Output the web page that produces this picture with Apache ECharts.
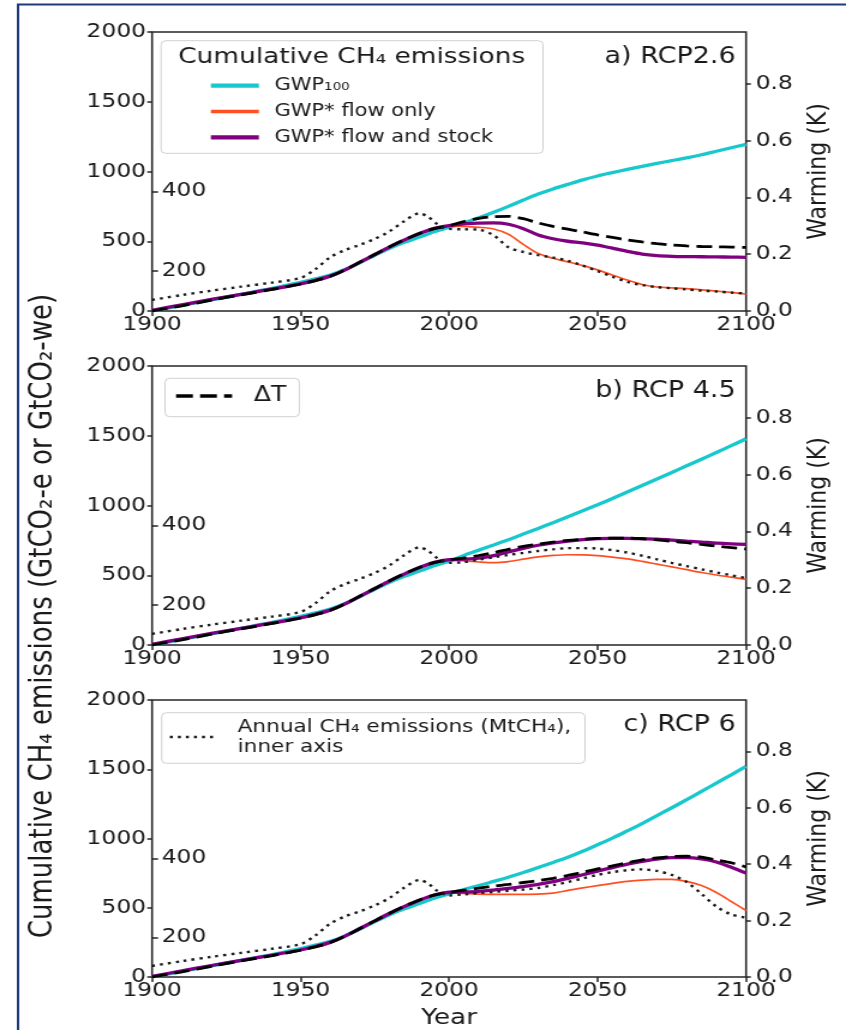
<!DOCTYPE html>
<html><head><meta charset="utf-8">
<script src="https://cdn.jsdelivr.net/npm/echarts@6/dist/echarts.min.js"></script>
<style>
html,body{margin:0;padding:0;background:#fff;overflow:hidden;width:846px;height:1030px}
#chart{width:705px;height:1030px;transform:scaleX(1.2);transform-origin:0 0;}
</style>
</head><body><div id="chart"></div>
<script>
// ---------- DATA ----------
const panelTitles = ['a) RCP2.6', 'b) RCP 4.5', 'c) RCP 6'];
const xTicks = [1900, 1950, 2000, 2050, 2100];
const warmTicks = [0, 0.2, 0.4, 0.6, 0.8];
const innerTicks = [200, 400];

const histYears = [1900,1910,1920,1930,1940,1950,1955,1960,1965,1970,1975,1980,1985,1990,1995,2000];
const histGwp100 = [0,40,80,120,160,205,230,257,297,347,400,450,492,530,568,600];
const histFlow   = [3,43,83,120,156,195,220,250,294,348,404,458,508,552,588,608];
const histStock  = [5,44,83,120,156,195,220,250,295,350,405,460,510,555,592,612];
const histDT     = [0,0.018,0.038,0.057,0.075,0.095,0.107,0.122,0.145,0.172,0.199,0.226,0.251,0.273,0.29,0.30];
const annualHistYears = [1900,1910,1920,1930,1940,1950,1955,1960,1965,1970,1975,1980,1985,1990,1993,1996,2000];
const annualHist = [128,140,151,161,171,183,205,235,253,266,281,300,326,345,336,318,306];

const futYears = [2005,2010,2015,2020,2025,2030,2035,2040,2045,2050,2055,2060,2065,2070,2075,2080,2085,2090,2095,2100];

const a_gwp100 = [632,668,708,750,795,838,875,908,940,968,992,1015,1037,1058,1078,1098,1120,1145,1170,1195];
const a_flow   = [606,600,588,550,478,412,378,352,325,295,258,222,190,172,166,160,152,143,133,122];
const a_stock  = [625,630,632,622,590,545,518,500,488,472,450,428,408,397,392,390,389,388,386,385];
const a_dT     = [0.315,0.326,0.332,0.333,0.325,0.31,0.298,0.288,0.278,0.268,0.259,0.25,0.243,0.237,0.232,0.229,0.227,0.226,0.225,0.224];
const a_annual = [305,304,290,260,248,240,234,226,214,200,186,173,165,160,157,154,151,149,146,144];

const b_gwp100 = [642,680,717,755,795,835,877,920,962,1005,1050,1097,1143,1190,1237,1285,1332,1380,1429,1478];
const b_flow   = [603,595,590,598,615,632,642,647,646,640,630,618,600,580,560,540,520,502,486,470];
const b_stock  = [615,622,640,668,693,715,732,745,755,762,765,765,762,758,752,745,738,730,725,722];
const b_dT     = [0.306,0.315,0.325,0.337,0.347,0.355,0.362,0.368,0.372,0.375,0.376,0.376,0.374,0.37,0.365,0.36,0.354,0.348,0.343,0.338];
const b_annual = [308,314,320,326,331,336,340,343,343,342,338,332,324,315,306,298,290,282,275,268];

const c_gwp100 = [632,660,690,720,754,790,827,865,908,955,1003,1055,1108,1165,1222,1280,1340,1400,1460,1520];
const c_flow   = [603,598,596,596,597,598,605,625,643,660,676,690,700,705,705,690,660,610,545,480];
const c_stock  = [614,618,628,640,653,668,688,712,738,765,790,815,835,852,862,862,852,830,792,750];
const c_dT     = [0.308,0.315,0.322,0.328,0.335,0.342,0.35,0.36,0.371,0.383,0.394,0.405,0.415,0.422,0.427,0.428,0.425,0.415,0.405,0.39];
const c_annual = [309,312,315,318,321,325,332,340,349,358,365,370,372,368,358,340,310,278,258,250];

const names = {
  gwp100: 'GWP₁₀₀',
  flow: 'GWP* flow only',
  stock: 'GWP* flow and stock',
  dT: 'ΔT',
  annual: 'Annual CH₄ emissions (MtCH₄),\ninner axis'
};

// ---------- LAYOUT ----------
const FONT = 'DejaVu Sans';
const TXT = '#1a1a1a';
const W = 705;
const gridLeft = 126.7, gridRight = 83.3, gridH = 279;
const gridTops = [32, 366, 700];
const COL = {gwp100:'#17c8cc', flow:'#ff4f22', stock:'#800080', dT:'#000', annual:'#1a1a1a'};

const scen = [
  {gwp: a_gwp100, flow: a_flow, stock: a_stock, dT: a_dT, annual: a_annual},
  {gwp: b_gwp100, flow: b_flow, stock: b_stock, dT: b_dT, annual: b_annual},
  {gwp: c_gwp100, flow: c_flow, stock: c_stock, dT: c_dT, annual: c_annual}
];

function pairs(xs, ys){ return xs.map((x,i)=>[x, ys[i]]); }
const allYears = histYears.concat(futYears);
const annualYears = annualHistYears.concat(futYears);

const grids = [], xAxes = [], yAxes = [], series = [];
const tickLine = {lineStyle:{color:'#262626', width:1.5}};
const plain = v => String(v);

gridTops.forEach((top, p) => {
  grids.push({left: gridLeft, right: gridRight, top: top, height: gridH, show: true,
    borderColor: '#262626', borderWidth: 1.6, backgroundColor: 'transparent'});
  xAxes.push({type:'value', gridIndex:p, min:1900, max:2100, interval:50,
    axisLine:{show:false}, splitLine:{show:false},
    axisTick:{show:true, length:5, ...tickLine},
    axisLabel:{fontFamily:FONT, fontSize:19.5, color:TXT, margin:4, formatter: plain},
    name: p === 2 ? 'Year' : '', nameLocation:'middle', nameGap:30,
    nameTextStyle:{fontFamily:FONT, fontSize:22, color:TXT}});
  // left cumulative axis
  yAxes.push({type:'value', gridIndex:p, position:'left', min:0, max:2000, interval:500,
    axisLine:{show:false}, splitLine:{show:false},
    axisTick:{show:true, length:4, ...tickLine},
    axisLabel:{fontFamily:FONT, fontSize:19.5, color:TXT, margin:5, formatter: plain}});
  // right warming axis
  yAxes.push({type:'value', gridIndex:p, position:'right', min:0, max:0.982,
    axisLine:{show:false}, splitLine:{show:false},
    axisTick:{show:true, length:4, customValues: warmTicks, ...tickLine},
    axisLabel:{fontFamily:FONT, fontSize:19.5, color:TXT, margin:8, customValues: warmTicks,
      formatter: v => v.toFixed(1)},
    name:'Warming (K)', nameLocation:'middle', nameRotate:90, nameGap:43,
    nameTextStyle:{fontFamily:FONT, fontSize:22, color:TXT}});
  // inner annual emissions axis
  yAxes.push({type:'value', gridIndex:p, position:'left', offset:0, min:100, max:800,
    axisLine:{show:false}, splitLine:{show:false},
    axisTick:{show:true, inside:true, length:5, customValues: innerTicks, ...tickLine},
    axisLabel:{inside:true, fontFamily:FONT, fontSize:19.5, color:TXT, margin:8, customValues: innerTicks, formatter: plain}});

  const s = scen[p];
  const base = {type:'line', xAxisIndex:p, symbol:'none', showSymbol:false, smooth:0.3, silent:true, animation:false};
  series.push({...base, name:names.gwp100, yAxisIndex:3*p, data: pairs(allYears, histGwp100.concat(s.gwp)),
    lineStyle:{color:COL.gwp100, width:3.3}, itemStyle:{color:COL.gwp100}});
  series.push({...base, name:names.flow, yAxisIndex:3*p, data: pairs(allYears, histFlow.concat(s.flow)),
    lineStyle:{color:COL.flow, width:1.7}, itemStyle:{color:COL.flow}});
  series.push({...base, name:names.stock, yAxisIndex:3*p, data: pairs(allYears, histStock.concat(s.stock)),
    lineStyle:{color:COL.stock, width:3.3}, itemStyle:{color:COL.stock}});
  series.push({...base, name:names.dT, yAxisIndex:3*p+1, data: pairs(allYears, histDT.concat(s.dT)),
    lineStyle:{color:COL.dT, width:2.8, type:[13,6], cap:'butt'}, itemStyle:{color:COL.dT}});
  series.push({...base, name:names.annual, yAxisIndex:3*p+2, data: pairs(annualYears, annualHist.concat(s.annual)),
    lineStyle:{color:COL.annual, width:2.4, type:[2.5,4.2], cap:'butt'}, itemStyle:{color:COL.annual}});
});

const legendCommon = {orient:'vertical', padding:0, selectedMode:false, z:10, itemHeight:14,
  itemStyle:{opacity:0}};
const legends = [
  {...legendCommon, left:173.6, top:75.7, itemWidth:40, itemGap:5.8,
    data:[
      {name:names.gwp100, lineStyle:{color:COL.gwp100, width:4.2}},
      {name:names.flow, lineStyle:{color:COL.flow, width:3.6}},
      {name:names.stock, lineStyle:{color:COL.stock, width:4.2}}],
    textStyle:{fontFamily:FONT, fontSize:17.5, color:TXT, lineHeight:20, padding:[0,0,0,8]}},
  {...legendCommon, left:145, top:384, itemWidth:46.7,
    data:[{name:names.dT, lineStyle:{color:COL.dT, width:3.4, type:[14,6]}}],
    textStyle:{fontFamily:FONT, fontSize:21, color:TXT, lineHeight:24, padding:[0,0,0,13]}},
  {...legendCommon, left:140.3, top:717, itemWidth:37.5,
    data:[{name:names.annual, lineStyle:{color:COL.annual, width:2.4, type:[2.5,4.2]}}],
    textStyle:{fontFamily:FONT, fontSize:18, color:TXT, lineHeight:20, padding:[0,0,0,14]}}
];

const box = (x, y, w, h) => ({type:'rect', z:8, shape:{x:x, y:y, width:w, height:h, r:4},
  style:{fill:'rgba(255,255,255,0.85)', stroke:'#d0d0d0', lineWidth:1}});
const txt = (t, x, y, size, align, rot) => ({type:'text', z:9, x:x, y:y, rotation: rot || 0,
  style:{text:t, fontFamily:FONT, fontSize:size, fill:TXT, align:align || 'left', verticalAlign:'middle'}});

const graphics = [
  {type:'rect', z:20, shape:{x:15, y:4.5, width:W + 20, height:1060}, style:{fill:'none', stroke:'#1c3a7c', lineWidth:2}},
  box(134.2, 40.7, 318.3, 112.6),
  box(137.5, 378.3, 111.9, 38.4),
  box(134.7, 712.7, 352.8, 50.6),
  txt('Cumulative CH₄ emissions', 293.1, 57.3, 22, 'center'),
  txt(panelTitles[0], 613, 57, 22.5, 'right'),
  txt(panelTitles[1], 613, 391, 22.5, 'right'),
  txt(panelTitles[2], 613, 725, 22.5, 'right'),
  txt('Cumulative CH₄ emissions (GtCO₂-e or GtCO₂-we)', 36.7, 616, 26, 'center', Math.PI / 2)
];

const chart = echarts.init(document.getElementById('chart'), null, {renderer:'canvas'});
chart.setOption({
  animation:false,
  backgroundColor:'#fff',
  grid: grids, xAxis: xAxes, yAxis: yAxes, series: series,
  legend: legends,
  graphic: graphics
});
</script>
</body></html>
